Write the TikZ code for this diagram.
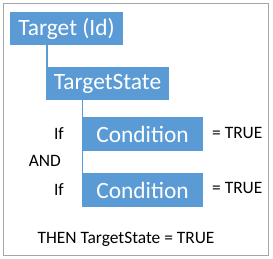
\documentclass[tikz,border=0pt]{standalone}
\usepackage{fontspec}
\setmainfont{Carlito}
\usetikzlibrary{positioning, calc}
\definecolor{officeblue}{HTML}{5B9BD5}
\definecolor{framegray}{HTML}{A6A6A6}
\tikzset{
  font=\fontsize{17.4}{20}\selectfont,
  %
  blockbox/.style={
    fill=officeblue, draw=none, text=white, inner sep=0pt,
    font=\fontsize{23.4}{26}\selectfont, minimum height=33.5pt,
  },
  link/.style={draw=officeblue, line width=1.4pt},
  lbl/.style={text=black, inner sep=0pt},
}

\begin{document}
\begin{tikzpicture}[x=1pt, y=-1pt]

\useasboundingbox (0,0) rectangle (273,258);
\draw[framegray, line width=0.9pt] (3,3) rectangle (268,255);

% the chain of blocks
\node[blockbox, minimum width=113pt] (target) at (66.5,28.5) {Target (Id)};
\node[blockbox, minimum width=123pt] (tstate) at (107.5,83.5) {TargetState};
\node[blockbox, minimum width=121pt] (condA) at (142.5,134) {Condition};
\node[blockbox, minimum width=121pt] (condB) at (142.5,190) {Condition};

\draw[link] ([xshift=1pt]tstate.north west |- target.south)
  -- ([xshift=1pt]tstate.north west);
\draw[link] ([xshift=0.7pt]condA.north west |- tstate.south)
  -- ([xshift=0.7pt]condA.north west);
\draw[link] ([xshift=0.7pt]condB.north west |- condA.south)
  -- ([xshift=0.7pt]condB.north west);

% the labels round the conditions
\node[lbl, anchor=east] (ifA) at (64,134) {If};
\node[lbl, anchor=east] (and) at (61,161) {AND};
\node[lbl, anchor=east] (ifB) at (64,190) {If};
\node[lbl, anchor=west] (trueA) at (212,133) {= TRUE};
\node[lbl, anchor=west] (trueB) at (212,188) {= TRUE};

\node[lbl] (then) at (126,239) {THEN TargetState = TRUE};

\end{tikzpicture}
\end{document}
